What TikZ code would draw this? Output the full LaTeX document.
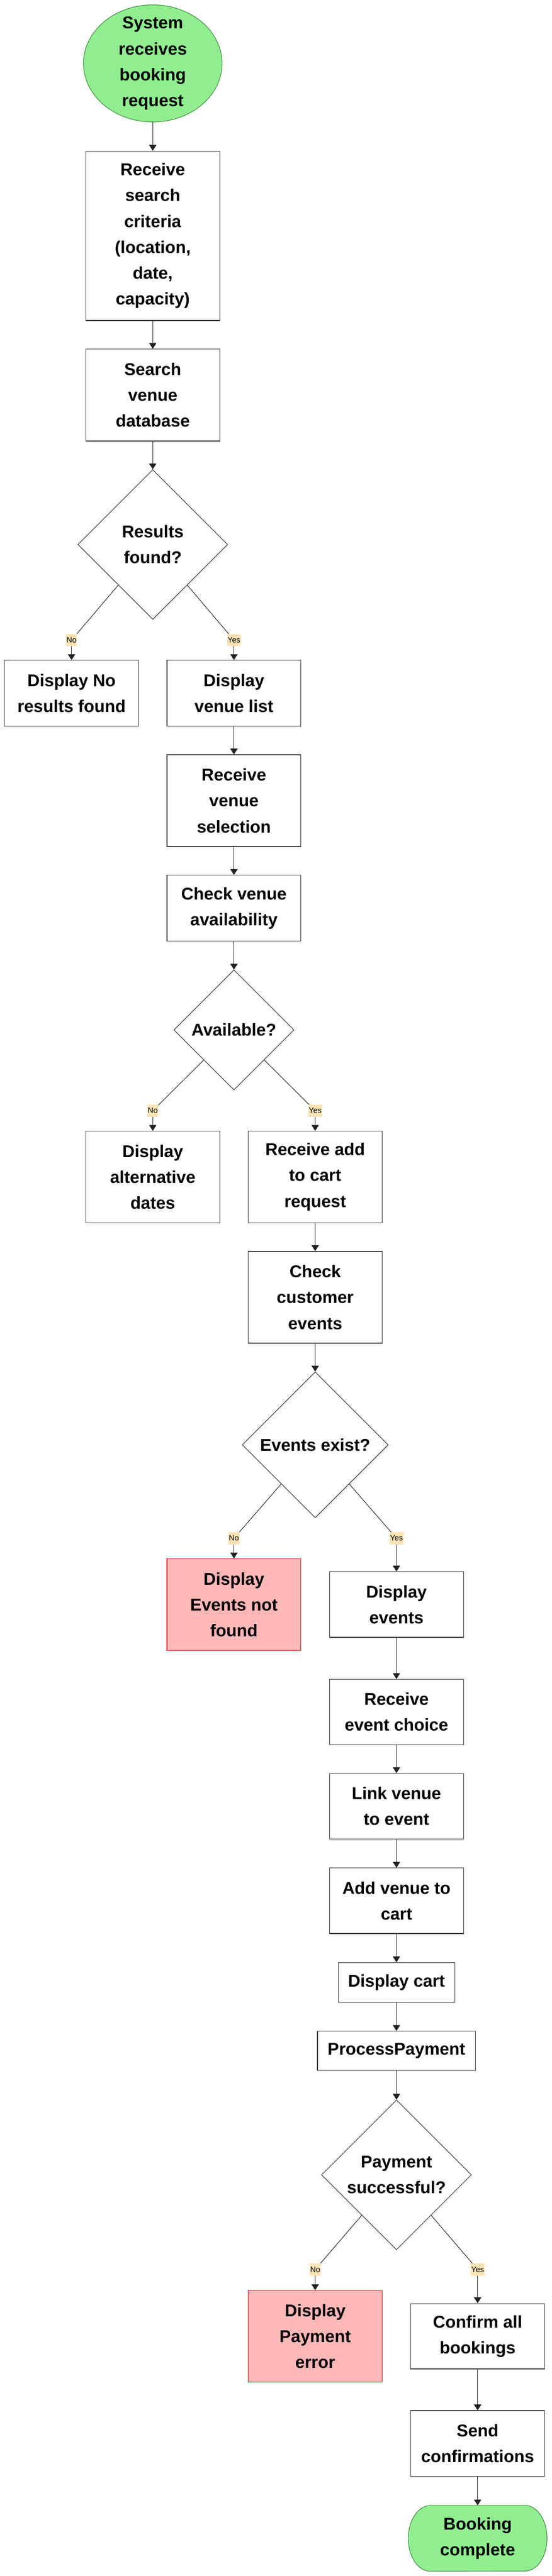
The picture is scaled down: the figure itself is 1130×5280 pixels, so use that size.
\documentclass[tikz,border=0pt]{standalone}
\usepackage{fontspec}
\setmainfont{Liberation Sans}
\usetikzlibrary{shapes.geometric,arrows.meta,shadows,backgrounds}
\definecolor{boxc}{HTML}{333333}
\definecolor{linec}{HTML}{222222}
\definecolor{lblc}{HTML}{FFE3B6}
\definecolor{greenf}{HTML}{90EE90}
\definecolor{greend}{HTML}{3F8F3F}
\definecolor{redf}{HTML}{FFB8B8}
\definecolor{redd}{HTML}{CC2020}
\newcommand{\boxfont}{\fontsize{35}{53}\selectfont\bfseries}
\newcommand{\lblfont}{\fontsize{16}{18}\selectfont}
\tikzset{
  shade box/.style={drop shadow={opacity=0.16, shadow xshift=1.5pt, shadow yshift=-3pt}},
  stepbox/.style={rectangle, draw=boxc, line width=1.3pt, fill=white, minimum width=274.5pt,
    align=center, font=\boxfont, inner sep=0pt, shade box},
  errbox/.style={stepbox, draw=redd, fill=redf},
  decision/.style={diamond, aspect=1, draw=boxc, line width=1.1pt, fill=white, inner sep=0pt,
    align=center, font=\boxfont, shade box},
  startnode/.style={ellipse, draw=greend, line width=1.2pt, fill=greenf, minimum width=284pt,
    minimum height=240pt, inner sep=-20pt, align=center, font=\boxfont},
  endnode/.style={rectangle, minimum width=283.8pt, minimum height=134.7pt, inner sep=0pt,
    align=center, font=\boxfont},
  lbl/.style={fill=lblc, font=\lblfont, inner xsep=1pt, inner ysep=0pt, minimum height=25pt},
  ln/.style={draw=linec, line width=1.1pt},
  arr/.style={ln, -{Triangle[width=15pt,length=12pt]}},
}
\begin{document}
\begin{tikzpicture}[x=1pt,y=-1pt]
\useasboundingbox (0,0) rectangle (1130,5280);
\def\cA{146.6}\def\cB{313}\def\cC{479.3}\def\cD{645.8}\def\cE{812.3}\def\cF{978.6}

% nodes
\node[startnode] (s) at (\cB,130) {System\\receives\\booking\\request};
\node[stepbox, minimum height=347.2pt] (b1) at (\cB,483.2) {Receive\\search\\criteria\\(location,\\date,\\capacity)};
\node[stepbox, minimum height=188.4pt] (b2) at (\cB,809.8) {Search\\venue\\database};
\node[decision, minimum width=307pt, minimum height=307pt] (d1) at (\cB,1116) {Results\\found?};
\node[lbl] (l1n) at (\cA,1312) {No};
\node[lbl] (l1y) at (\cC,1312) {Yes};
\node[stepbox, minimum height=134.5pt] (n1) at (\cA,1420.8) {Display No\\results found};
\node[stepbox, minimum height=134.5pt] (y1) at (\cC,1420.8) {Display\\venue list};
\node[stepbox, minimum height=188pt] (b3) at (\cC,1641) {Receive\\venue\\selection};
\node[stepbox, minimum height=134.6pt] (b4) at (\cC,1861.3) {Check venue\\availability};
\node[decision, minimum width=246pt, minimum height=246pt] (d2) at (\cC,2111) {Available?};
\node[lbl] (l2n) at (\cB,2276.5) {No};
\node[lbl] (l2y) at (\cD,2276.5) {Yes};
\node[stepbox, minimum height=187.5pt] (n2) at (\cB,2412.3) {Display\\alternative\\dates};
\node[stepbox, minimum height=187.5pt] (b5) at (\cD,2412.3) {Receive add\\to cart\\request};
\node[stepbox, minimum height=188pt] (b6) at (\cD,2659) {Check\\customer\\events};
\node[decision, minimum width=299pt, minimum height=299pt] (d3) at (\cD,2961.4) {Events exist?};
\node[lbl] (l3n) at (\cC,3153) {No};
\node[lbl] (l3y) at (\cE,3153) {Yes};
\node[errbox, minimum height=187.7pt] (n3) at (\cC,3288.9) {Display\\Events not\\found};
\node[stepbox, minimum height=134.3pt] (b7) at (\cE,3288.7) {Display\\events};
\node[stepbox, minimum height=134pt] (b8) at (\cE,3509) {Receive\\event choice};
\node[stepbox, minimum height=134.7pt] (b9) at (\cE,3702.3) {Link venue\\to event};
\node[stepbox, minimum height=134.2pt] (b10) at (\cE,3895.9) {Add venue to\\cart};
\node[stepbox, minimum width=238.6pt, minimum height=81pt] (b11) at (\cE,4063.2) {Display cart};
\node[stepbox, minimum width=323.8pt, minimum height=80.4pt] (b12) at (\cE,4203.6) {ProcessPayment};
\node[decision, minimum width=307pt, minimum height=307pt] (d4) at (\cE,4457.7) {Payment\\successful?};
\node[lbl] (l4n) at (\cD,4651.8) {No};
\node[lbl] (l4y) at (\cF,4651.8) {Yes};
\node[errbox, minimum height=187.5pt] (n4) at (\cD,4788.5) {Display\\Payment\\error};
\node[stepbox, minimum height=134pt] (b13) at (\cF,4788.5) {Confirm all\\bookings};
\node[stepbox, minimum height=134.7pt] (b14) at (\cF,5008.4) {Send\\confirmations};
\node[endnode] (e) at (\cF,5202.7) {Booking\\complete};
\begin{pgfonlayer}{background}
\path[fill=greenf, draw=greend, line width=1.2pt]
  ([xshift=45pt]e.north west) -- ([xshift=-45pt]e.north east)
  arc[start angle=90, end angle=-90, x radius=45pt, y radius=67.35pt]
  -- ([xshift=45pt]e.south west)
  arc[start angle=270, end angle=90, x radius=45pt, y radius=67.35pt] -- cycle;
\end{pgfonlayer}

% connectors
\draw[arr] (s) -- (b1);
\draw[arr] (b1) -- (b2);
\draw[arr] (b2) -- (d1);
\draw[ln] (d1) -- (l1n); \draw[arr] (l1n) -- (n1);
\draw[ln] (d1) -- (l1y); \draw[arr] (l1y) -- (y1);
\draw[arr] (y1) -- (b3);
\draw[arr] (b3) -- (b4);
\draw[arr] (b4) -- (d2);
\draw[ln] (d2) -- (l2n); \draw[arr] (l2n) -- (n2);
\draw[ln] (d2) -- (l2y); \draw[arr] (l2y) -- (b5);
\draw[arr] (b5) -- (b6);
\draw[arr] (b6) -- (d3);
\draw[ln] (d3) -- (l3n); \draw[arr] (l3n) -- (n3);
\draw[ln] (d3) -- (l3y); \draw[arr] (l3y) -- (b7);
\draw[arr] (b7) -- (b8);
\draw[arr] (b8) -- (b9);
\draw[arr] (b9) -- (b10);
\draw[arr] (b10) -- (b11);
\draw[arr] (b11) -- (b12);
\draw[arr] (b12) -- (d4);
\draw[ln] (d4) -- (l4n); \draw[arr] (l4n) -- (n4);
\draw[ln] (d4) -- (l4y); \draw[arr] (l4y) -- (b13);
\draw[arr] (b13) -- (b14);
\draw[arr] (b14) -- (e);
\end{tikzpicture}
\end{document}
